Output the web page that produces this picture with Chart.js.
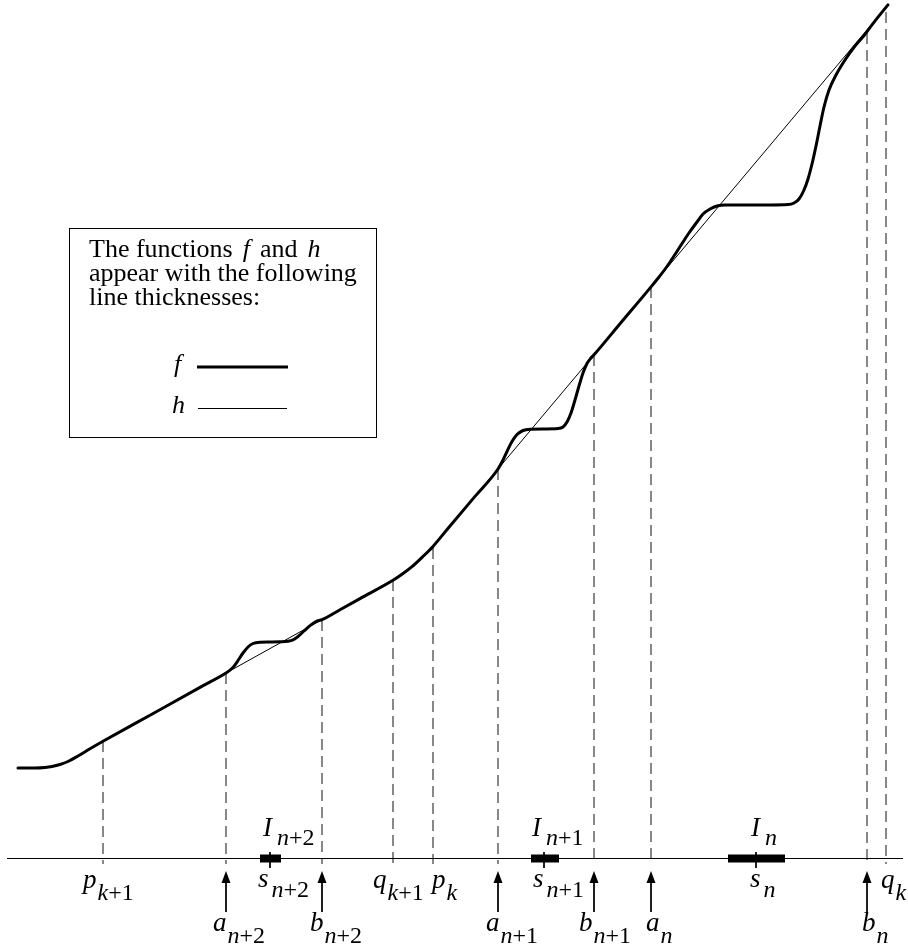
<!DOCTYPE html>
<html>
<head>
<meta charset="utf-8">
<script src="https://cdn.jsdelivr.net/npm/chart.js@4.4.1/dist/chart.umd.min.js"></script>
<style>
  body { margin: 0; background: #fff; }
  #can { display: block; }
</style>
</head>
<body>
<canvas id="can" width="908" height="952"></canvas>
<script>
// the thick curve f (picture units, y grows downward)
const fX = [18, 35, 45, 52, 60, 68, 78, 90, 103, 150, 200, 226,
  230, 234, 238, 243, 248, 253, 260, 270, 280, 288, 293, 298, 304, 310, 316, 322,
  340, 360, 393, 402, 412, 422, 433, 450, 475, 498,
  503, 507, 512, 517, 523, 530, 545, 558, 563, 567, 571, 575, 579, 583, 587, 591, 594,
  620, 651,
  659, 667, 675, 683, 690, 697, 703, 710, 717, 725, 745, 770, 788, 794, 799, 804, 808,
  812, 816, 820, 824, 829, 836, 845, 855, 864, 872, 880, 888]
const fY = [768, 768, 767.5, 766.5, 764.5, 761.5, 756, 748.8, 741.3, 715.2, 687.4, 673,
  670.2, 666.2, 660.5, 653, 647, 643.5, 642.2, 642, 641.8, 641.2, 639.8, 636.5, 631, 625.6, 621.6, 619.7,
  609.7, 598.6, 580.3, 574.3, 566.7, 557.4, 546.4, 526, 496.4, 469,
  460, 451.5, 441.5, 434.5, 430.5, 429.2, 429, 428.6, 427, 422, 413, 400, 386, 373, 363.5, 358, 354.8,
  323.8, 286.9,
  277, 266.5, 254.5, 242, 231.5, 222, 214, 209, 206, 205, 205, 205, 204.6, 203, 199, 190, 179,
  164, 146, 126, 107, 90, 75, 60, 46, 35.5, 24.8, 14.6, 4.9]

// the thin line h, where it leaves f
const hX = [226, 322, 410, 498, 888]
const hY = [673, 619.7, null, 469, 4.9]

// marked points on the axis
const markNames = ['p', 'a', 'b', 'q', 'p', 'a', 'b', 'a', 'b', 'q']
const markSubs = ['k+1', 'n+2', 'n+2', 'k+1', 'k', 'n+1', 'n+1', 'n', 'n', 'k']
const markX = [103, 226, 322, 393, 433, 498, 594, 651, 867, 886]
const markTop = [741, 673, 620, 580, 548, 469, 355, 287, 33, 12]

// intervals I and their centres s
const intSubs = ['n+2', 'n+1', 'n']
const intFrom = [260, 531, 728]
const intTo = [281, 559, 785]
const sX = [270, 544, 756]

const axisY = 858.5
const axisFrom = 7
const axisTo = 903

// layout of the texts
const labelLeft = [83, 213, 310, 373, 432, 486, 579, 646, 862, 881]
const sLeft = [258, 533, 750]
const iLeft = [263, 532, 751]
const serif = '"Liberation Serif", "Times New Roman", serif'

function pts(xs, ys) {
    return xs.map((x, i) => ({x: x, y: ys[i]}))
}

// narrow arrow head
const head = document.createElement('canvas')
head.width = 10
head.height = 12
let hc = head.getContext('2d')
hc.fillStyle = '#000'
hc.beginPath()
hc.moveTo(5, 0)
hc.lineTo(9.5, 12)
hc.lineTo(0.5, 12)
hc.closePath()
hc.fill()

let datasets = []

datasets.push({
    data: pts(fX, fY),
    borderColor: '#000',
    borderWidth: 3,
    cubicInterpolationMode: 'monotone',
    borderJoinStyle: 'round',
    borderCapStyle: 'round'
})

datasets.push({
    data: pts(hX, hY),
    borderColor: '#000',
    borderWidth: 1
})

// interval bars
for (let i = 0; i < intFrom.length; i++) {
    datasets.push({
        data: [{x: intFrom[i], y: axisY}, {x: intTo[i], y: axisY}],
        borderColor: '#000',
        borderWidth: 8
    })
    datasets.push({
        data: [{x: sX[i], y: 852}, {x: sX[i], y: 868}],
        borderColor: '#000',
        borderWidth: 1
    })
}

// axis
datasets.push({
    data: [{x: axisFrom, y: axisY}, {x: axisTo, y: axisY}],
    borderColor: '#000',
    borderWidth: 1
})

// dashed verticals and arrows
for (let i = 0; i < markX.length; i++) {
    datasets.push({
        data: [{x: markX[i], y: markTop[i]}, {x: markX[i], y: 864}],
        borderColor: '#111',
        borderWidth: 1,
        borderDash: [11, 6]
    })
    if (markNames[i] === 'a' || markNames[i] === 'b') {
        datasets.push({
            data: [{x: markX[i], y: 882}, {x: markX[i], y: 912}],
            borderColor: '#000',
            borderWidth: 1
        })
        datasets.push({
            data: [{x: markX[i], y: 877}],
            showLine: false,
            pointRadius: 6,
            pointStyle: head
        })
    }
}

datasets.forEach(d => {
    if (d.showLine === undefined) d.showLine = true
    if (d.pointRadius === undefined) d.pointRadius = 0
    d.fill = false
})

function drawLabel(ctx, main, sub, x, base, subBase, gap) {
    ctx.font = 'italic 27px ' + serif
    ctx.fillText(main, x, base)
    let cx = x + ctx.measureText(main).width + gap
    for (const ch of sub) {
        ctx.font = (/[a-z]/.test(ch) ? 'italic ' : '') + '24px ' + serif
        ctx.fillText(ch, cx, subBase)
        cx += ctx.measureText(ch).width
    }
}

const textPlugin = {
    id: 'texts',
    afterDatasetsDraw(chart) {
        const ctx = chart.ctx
        const ys = chart.scales.y
        ctx.save()
        ctx.fillStyle = '#000'
        ctx.textBaseline = 'alphabetic'
        ctx.textAlign = 'left'

        for (let i = 0; i < markNames.length; i++) {
            let low = markNames[i] === 'a' || markNames[i] === 'b'
            let base = low ? 931 : 888
            drawLabel(ctx, markNames[i], markSubs[i], labelLeft[i], ys.getPixelForValue(base),
                ys.getPixelForValue(base + 12), 1)
        }
        for (let i = 0; i < sX.length; i++) {
            drawLabel(ctx, 's', intSubs[i], sLeft[i], ys.getPixelForValue(887), ys.getPixelForValue(897), 3)
            drawLabel(ctx, 'I', intSubs[i], iLeft[i], ys.getPixelForValue(836), ys.getPixelForValue(845), 5)
        }

        // legend box
        ctx.strokeStyle = '#000'
        ctx.lineWidth = 1
        ctx.strokeRect(69.5, 228.5, 307, 209)

        let y1 = 257
        let x = 89
        const parts = [['The functions', false], ['f', true], ['and', false], ['h', true]]
        parts.forEach(p => {
            ctx.font = (p[1] ? 'italic ' : '') + '26px ' + serif
            ctx.fillText(p[0], x, y1)
            x += ctx.measureText(p[0]).width + 10
        })
        ctx.font = '26px ' + serif
        ctx.fillText('appear with the following', 89, y1 + 24)
        ctx.fillText('line thicknesses:', 89, y1 + 48)

        ctx.font = 'italic 26px ' + serif
        ctx.fillText('f', 174, 372)
        ctx.fillText('h', 172, 413)
        ctx.beginPath()
        ctx.lineWidth = 3
        ctx.moveTo(197, 367)
        ctx.lineTo(288, 367)
        ctx.stroke()
        ctx.beginPath()
        ctx.lineWidth = 1
        ctx.moveTo(198, 408.5)
        ctx.lineTo(287, 408.5)
        ctx.stroke()
        ctx.restore()
    }
}

let chart = new Chart(document.getElementById('can'), {
    type: 'scatter',
    data: {datasets: datasets},
    options: {
        responsive: false,
        animation: false,
        events: [],
        layout: {padding: 0, autoPadding: false},
        plugins: {legend: {display: false}, tooltip: {enabled: false}},
        scales: {
            x: {type: 'linear', min: 0, max: 908, display: false},
            y: {type: 'linear', min: 0, max: 952, reverse: true, display: false}
        }
    },
    plugins: [textPlugin]
})
</script>
</body>
</html>
